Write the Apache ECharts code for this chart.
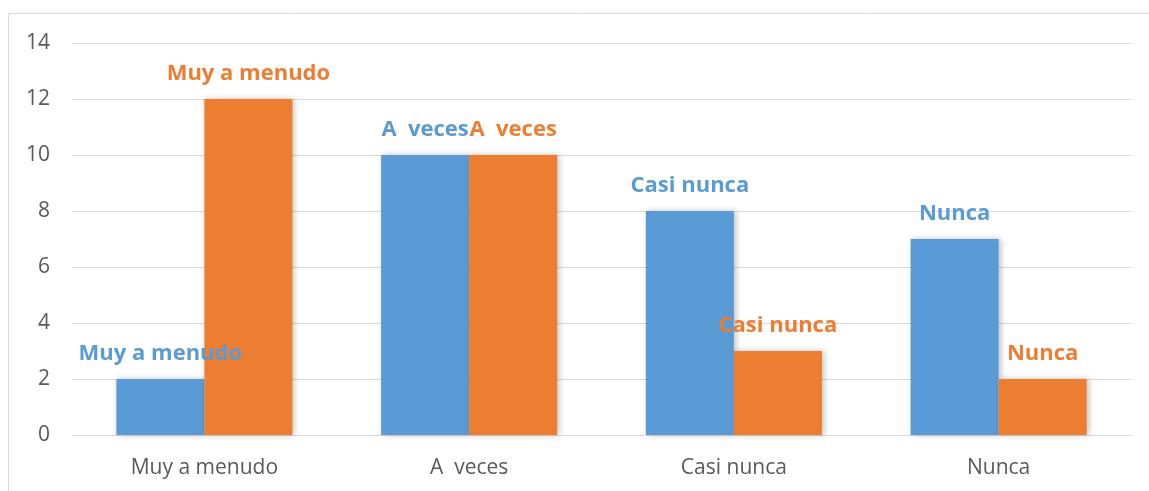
<!DOCTYPE html>
<html><head><meta charset="utf-8">
<script src="https://cdn.jsdelivr.net/npm/echarts@6/dist/echarts.min.js"></script>
<style>html,body{margin:0;padding:0;background:#fff}#c{width:1149px;height:491px}</style>
</head><body><div id="c"></div>
<script>
const categories = ['Muy a menudo', 'A  veces', 'Casi nunca', 'Nunca'];
const seriesA = [2, 10, 8, 7];
const seriesB = [12, 10, 3, 2];
const yTicks = {min: 0, max: 14, interval: 2};
const blue = '#5B9BD5', orange = '#ED7D31';
const font = 'Open Sans';
const chart = echarts.init(document.getElementById('c'));
function mk(name, data, color) {
  return {
    name: name, type: 'bar', data: data, barGap: '0%', barCategoryGap: '33.5%',
    itemStyle: {color: color, shadowColor: 'rgba(0,0,0,0.25)', shadowBlur: 6, shadowOffsetX: 2, shadowOffsetY: 0},
    label: {show: true, position: 'top', distance: 14, formatter: p => p.name,
      color: color, fontWeight: 'bold', fontSize: 22, fontFamily: font}
  };
}
chart.setOption({
  animation: false,
  graphic: [{type: 'rect', shape: {x: 8.5, y: 13.5, width: 1200, height: 600},
    style: {fill: 'none', stroke: '#d9d9d9', lineWidth: 1}, z: -1}],
  grid: {left: 72, right: 18, top: 43, bottom: 56},
  xAxis: {type: 'category', data: categories,
    axisLine: {lineStyle: {color: '#d9d9d9'}}, axisTick: {show: false},
    axisLabel: {color: '#595959', fontSize: 21, fontFamily: font, margin: 23}},
  yAxis: {type: 'value', min: yTicks.min, max: yTicks.max, interval: yTicks.interval,
    axisLine: {show: false}, axisTick: {show: false},
    splitLine: {lineStyle: {color: '#d9d9d9'}},
    axisLabel: {color: '#595959', fontSize: 21, fontFamily: font, margin: 22}},
  series: [mk('A', seriesA, blue), mk('B', seriesB, orange)]
});
</script></body></html>
